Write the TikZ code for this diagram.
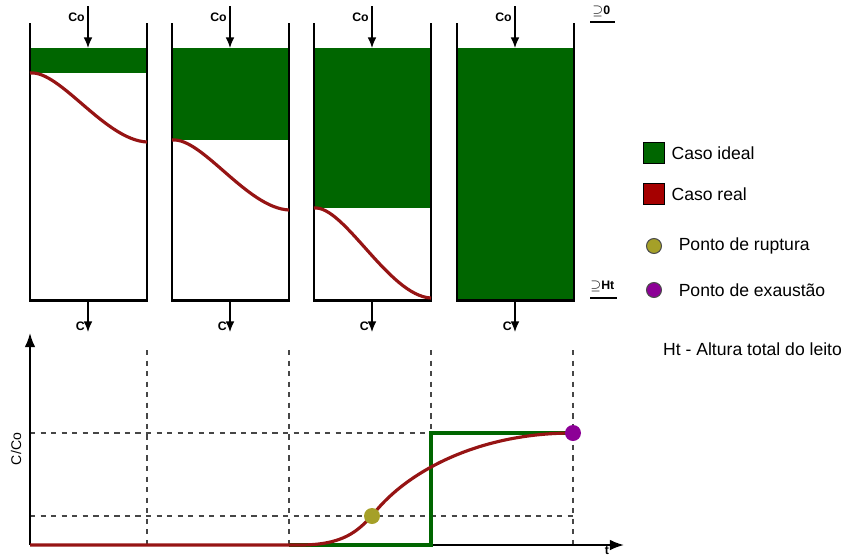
\documentclass[tikz,border=0pt]{standalone}
\usepackage{fontspec}
\setmainfont{Liberation Sans}
\usetikzlibrary{arrows.meta, positioning, calc}
\definecolor{BedGreen}{RGB}{0,102,0}
\definecolor{CurveRed}{RGB}{150,20,20}
\definecolor{LegRed}{RGB}{165,0,0}
\definecolor{RupOlive}{RGB}{165,160,40}
\definecolor{ExhPurple}{RGB}{140,0,150}
\definecolor{DashGray}{RGB}{70,70,70}

\begin{document}
\begin{tikzpicture}[x=0.02cm, y=-0.02cm, font=\fontsize{10}{12}\selectfont,
  wall/.style={line width=1.7pt, line join=miter},
  feed/.style={-{Latex[length=6pt,width=5pt]}, line width=0.9pt},
  realc/.style={CurveRed, line width=1.8pt},
  idealc/.style={BedGreen, line width=1.8pt},
  griddash/.style={dashed, DashGray, line width=0.8pt},
  lbl/.style={font=\fontsize{7}{8}\selectfont\bfseries, inner sep=0pt},
  legbox/.style={draw=black, line width=1pt, minimum size=0.42cm, inner sep=0pt},
  legdot/.style={circle, draw=black!70, line width=0.6pt, minimum size=0.3cm, inner sep=0pt},
  pt/.style={circle, minimum size=0.32cm, inner sep=0pt}]

\useasboundingbox (0,0) rectangle (867,556);

% ---- columns ----
\foreach \i/\xl/\zf in {1/30/73, 2/172/140, 3/314/208, 4/457/300}{
  \pgfmathsetmacro\xr{\xl+117}
  \pgfmathsetmacro\xm{\xl+58}
  \fill[BedGreen] (\xl,48) rectangle (\xr,\zf);
  \draw[wall] (\xl,23) -- (\xl,300) -- (\xr,300) -- (\xr,23);
  \coordinate (in\i) at (\xm,6);
  \coordinate (top\i) at (\xm,48);
  \coordinate (bot\i) at (\xm,300);
  \coordinate (out\i) at (\xm,332);
  \draw[feed] (in\i) -- (top\i);
  \draw[feed] (bot\i) -- (out\i);
  \node[lbl, anchor=east] at ($(in\i)+(-3,11)$) {Co};
  \node[lbl, anchor=east] at ($(out\i)+(-3,-6)$) {C};
}
% real front
\foreach \xl/\yt/\yb in {30/73/142, 172/140/210, 314/208/298}{
  \draw[realc] (\xl,\yt) .. controls (\xl+30,\yt-3) and (\xl+75,\yb-2) .. (\xl+117,\yb);
}

% ---- bed height marks ----
\node[lbl, anchor=west] (ztop) at (592,11) {$\supseteq$0};
\draw[line width=1pt] ($(ztop.south west)+(-2,5)$) -- ($(ztop.south east)+(4,5)$);
\node[lbl, anchor=west] (zbot) at (590,286) {$\supseteq$Ht};
\draw[line width=1pt] ($(zbot.south west)+(0,6)$) -- ($(zbot.south east)+(2,6)$);

% ---- legend ----
\node[legbox, fill=BedGreen] (lgideal) at (654,153) {};
\node[right=0pt of lgideal] {Caso ideal};
\node[legbox, fill=LegRed] (lgreal) at (654,194) {};
\node[right=0pt of lgreal] {Caso real};
\node[legdot, fill=RupOlive] (lgrup) at (654,246) {};
\node[right=6pt of lgrup] {Ponto de ruptura};
\node[legdot, fill=ExhPurple] (lgexh) at (654,290) {};
\node[right=6pt of lgexh] {Ponto de exaustão};
\node[anchor=west] (ht) at (657,349) {Ht - Altura total do leito};

% ---- breakthrough curve ----
\coordinate (O) at (30,545);
\coordinate (yend) at (30,333);
\coordinate (xend) at (624,545);
\foreach \x in {147,289,431,573}
  \draw[griddash] (\x,350) -- (\x,545);
\draw[griddash] (30,433) -- (573,433);
\draw[griddash] (30,516) -- (573,516);
\draw[line width=1pt, -{Latex[length=8pt,width=6pt]}] (O) -- (yend);
\draw[line width=1pt, -{Latex[length=8pt,width=6pt]}] (O) -- (xend);
\node[rotate=90, inner sep=0pt, font=\fontsize{8}{9}\selectfont] (ylab) at (16,449) {C/Co};
\node[lbl, anchor=north] (xlab) at (607,546) {t};
\draw[idealc] (289,545) -- (431,545) -- (431,433) -- (573,433);
\node[pt] (rup) at (372,516) {};
\node[pt] (exh) at (573,433) {};
\draw[realc] (O) -- (300,545) .. controls (345,545) and (358,530) .. (rup.center)
  .. controls (400,478) and (470,433) .. (exh.center);
\node[pt, fill=RupOlive] at (rup) {};
\node[pt, fill=ExhPurple] at (exh) {};

\end{tikzpicture}
\end{document}
